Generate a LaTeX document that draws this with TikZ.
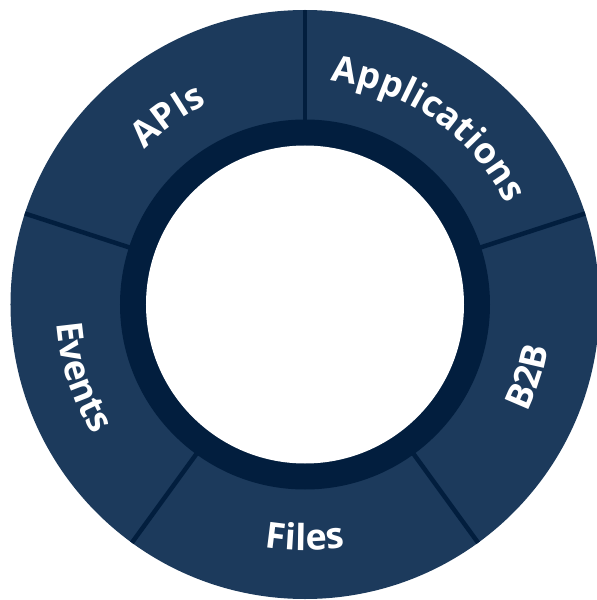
\documentclass[tikz,border=0pt]{standalone}
\usepackage{fontspec}
\setmainfont{Open Sans}
\usetikzlibrary{decorations.text}
\definecolor{ringblue}{HTML}{1C3A5C}
\definecolor{ringdark}{HTML}{021E3E}
\newcommand{\labelfont}{\bfseries\fontsize{36}{36}\selectfont}
\tikzset{
  sectorlabel/.style={decorate, decoration={text along path, text align=center,
    text color=white, text={|\labelfont|#1}}},
}
\begin{document}
\begin{tikzpicture}[x=1pt,y=1pt]
            \useasboundingbox (-305,-295.5) rectangle (292,304.5);
            \coordinate (c) at (0,0);

            \fill[ringblue] (c) circle[radius=294.5];
            \fill[ringdark] (c) circle[radius=185];
            \fill[white] (c) circle[radius=159];

            \foreach \a in {18,90,162,234,306}
                \draw[ringdark, line width=4.5pt] (\a:183) -- (\a:294.5);

            % upper labels read clockwise, lower ones counter-clockwise
            \path[sectorlabel=APIs] (156:223) arc[start angle=156, end angle=96, radius=223];
            \path[sectorlabel=Applications] (110:225) arc[start angle=110, end angle=0, radius=225];
            \path[sectorlabel=Events] (160:249) arc[start angle=160, end angle=236, radius=249];
            \path[sectorlabel=Files] (230:246) arc[start angle=230, end angle=310, radius=246];
            \path[sectorlabel=B2B] (-56:247) arc[start angle=-56, end angle=20, radius=247];
        \end{tikzpicture}
\end{document}
